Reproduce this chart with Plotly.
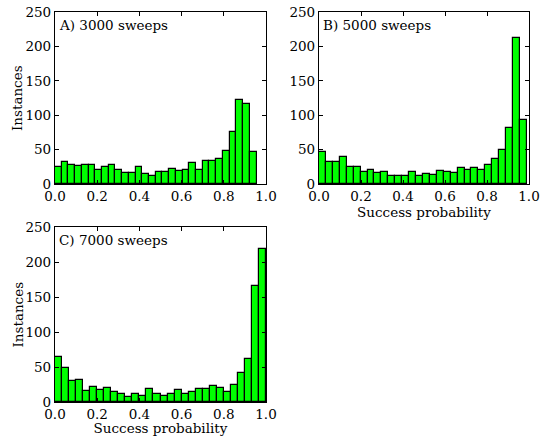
import numpy as np
import plotly.graph_objects as go

# Histogram counts (30 bins each)
counts_a = [25, 32, 28, 26, 28, 27, 20, 24, 27, 21, 16, 16, 24, 14, 12,
            18, 17, 22, 19, 21, 30, 21, 33, 34, 37, 48, 76, 122, 116, 46]
counts_b = [47, 32, 32, 39, 24, 25, 17, 20, 16, 17, 12, 11, 11, 18, 12,
            14, 13, 19, 18, 16, 23, 21, 23, 20, 27, 37, 49, 82, 212, 93]
counts_c = [65, 49, 30, 32, 16, 22, 17, 20, 14, 12, 7, 12, 8, 18, 11,
            8, 11, 17, 11, 14, 19, 19, 23, 20, 14, 25, 42, 61, 166, 218]
# data range (min, max) of each histogram
range_a = (0.0, 0.955)
range_b = (0.0, 0.99)
range_c = (0.0, 1.0)
titles = ["A) 3000 sweeps", "B) 5000 sweeps", "C) 7000 sweeps"]
x_ticks = [0.0, 0.2, 0.4, 0.6, 0.8, 1.0]
y_ticks = [0, 50, 100, 150, 200, 250]

FONT = "DejaVu Serif"
W, H = 543, 436

panels = [
    (counts_a, range_a, titles[0], (55, 266), (12, 184), True, False),
    (counts_b, range_b, titles[1], (319, 529), (12, 184), False, True),
    (counts_c, range_c, titles[2], (55, 266), (227, 402), True, True),
]

fig = go.Figure()
layout = dict(
    width=W, height=H, margin=dict(l=0, r=0, t=0, b=0, autoexpand=False),
    paper_bgcolor="white", plot_bgcolor="white", showlegend=False,
    font=dict(family=FONT, size=13, color="black"), bargap=0,
)
annotations = []
for i, (cnt, rng, title, (x0, x1), (y0, y1), ylab, xlab) in enumerate(panels):
    n = len(cnt)
    edges = np.linspace(rng[0], rng[1], n + 1)
    centers = (edges[:-1] + edges[1:]) / 2
    width = edges[1] - edges[0]
    xa = "x" if i == 0 else f"x{i+1}"
    ya = "y" if i == 0 else f"y{i+1}"
    fig.add_trace(go.Bar(
        x=centers, y=cnt, width=[width] * n, xaxis=xa, yaxis=ya,
        marker=dict(color="#00ff00", line=dict(color="black", width=1.2)),
    ))
    xkey = "xaxis" if i == 0 else f"xaxis{i+1}"
    ykey = "yaxis" if i == 0 else f"yaxis{i+1}"
    layout[xkey] = dict(
        domain=[x0 / W, x1 / W], range=[0, 1], anchor=ya, automargin=False,
        tickvals=x_ticks, tickformat=".1f", ticks="inside", ticklen=4,
        tickcolor="black", showline=True, linecolor="black", linewidth=1.2,
        mirror="ticks", showgrid=False, zeroline=False,
        tickfont=dict(family=FONT, size=13.5),
        title=dict(text="Success probability" if xlab else "",
                   font=dict(family=FONT, size=13.5), standoff=0),
    )
    layout[ykey] = dict(
        domain=[1 - y1 / H, 1 - y0 / H], range=[0, 250], anchor=xa,
        automargin=False,
        tickvals=y_ticks, ticks="inside", ticklen=4, tickcolor="black",
        showline=True, linecolor="black", linewidth=1.2, mirror="ticks",
        showgrid=False, zeroline=False,
        tickfont=dict(family=FONT, size=13.5),
    )
    annotations.append(dict(
        text=title, xref=f"{xa} domain", yref=f"{ya} domain",
        x=0.0, y=0.985, xanchor="left", yanchor="top", showarrow=False,
        xshift=2, font=dict(family=FONT, size=13.5),
    ))
    if ylab:
        annotations.append(dict(
            text="Instances", xref="paper", yref=f"{ya} domain",
            x=17 / W, y=0.5, xanchor="center", yanchor="middle",
            textangle=-90, showarrow=False, font=dict(family=FONT, size=13.5),
        ))
layout["annotations"] = annotations
fig.update_layout(**layout)
fig.write_html("out.html")
